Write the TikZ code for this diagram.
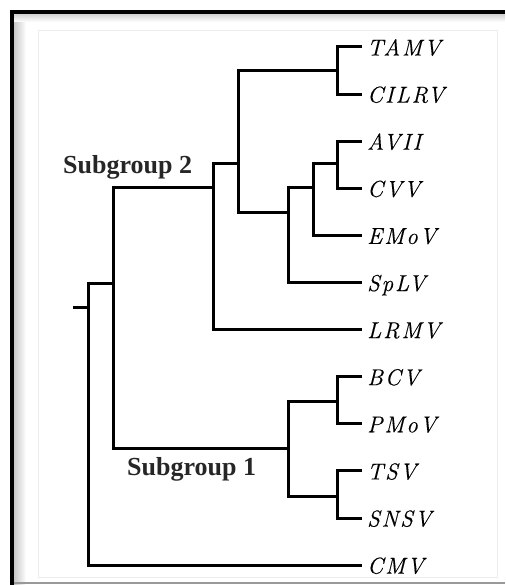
\documentclass[tikz,border=0pt]{standalone}
\usepackage{fontspec}
\newfontfamily\leaffont[LetterSpace=8, FakeBold=0.3]{Latin Modern Roman}
\newfontfamily\groupfont{Liberation Serif}
\usetikzlibrary{positioning}

\begin{document}
\begin{tikzpicture}[x=1pt, y=-1pt, node distance=47.1pt]

\tikzstyle{leaf} = [anchor=west, inner xsep=5pt, inner ysep=0pt, text height=17pt, text depth=0pt, font=\leaffont\itshape\fontsize{23}{26}\selectfont]
\tikzstyle{group} = [anchor=base west, inner sep=0pt, text=black!85, font=\groupfont\bfseries\fontsize{26}{30}\selectfont]
\tikzstyle{branch} = [line width=3pt]

\useasboundingbox (0,0) rectangle (505,585);

% frame
\shade[left color=black!22, right color=white] (14,14) rectangle (26,585);
\shade[top color=black!18, bottom color=white] (14,14) rectangle (505,22);
\draw[black!7, line width=0.6pt] (38,30) rectangle (497,577);
\draw[black!40, line width=1.5pt] (12,583) -- (505,583);
\draw[line width=4.5pt] (505,12) -- (12,12) -- (12,585);

% leaves
\node (tamv) [leaf] at (362,47) {TAMV};
\node (cilrv) [leaf, below=of tamv.west, anchor=west] {CILRV};
\node (avii) [leaf, below=of cilrv.west, anchor=west] {AVII};
\node (cvv) [leaf, below=of avii.west, anchor=west] {CVV};
\node (emov) [leaf, below=of cvv.west, anchor=west] {EMoV};
\node (splv) [leaf, below=of emov.west, anchor=west] {SpLV};
\node (lrmv) [leaf, below=of splv.west, anchor=west] {LRMV};
\node (bcv) [leaf, below=of lrmv.west, anchor=west] {BCV};
\node (pmov) [leaf, below=of bcv.west, anchor=west] {PMoV};
\node (tsv) [leaf, below=of pmov.west, anchor=west] {TSV};
\node (snsv) [leaf, below=of tsv.west, anchor=west] {SNSV};
\node (cmv) [leaf, below=of snsv.west, anchor=west] {CMV};

% junctions
\coordinate (j1) at (337,71);
\coordinate (j2) at (337,164);
\coordinate (j3) at (313,188);
\coordinate (j4) at (288,212);
\coordinate (j5) at (238,164);
\coordinate (j6) at (213,188);
\coordinate (j9) at (337,401);
\coordinate (j10) at (337,496);
\coordinate (j8) at (288,448);
\coordinate (j7) at (113,283);
\coordinate (root) at (88,307);
\coordinate (stub) at (73,307);

\node (sub2) [group] at (63,174) {Subgroup 2};
\node (sub1) [group] at (127,475) {Subgroup 1};

% branches
\draw [branch] (tamv.west) -| (j1) |- (cilrv.west);
\draw [branch] (avii.west) -| (j2) |- (cvv.west);
\draw [branch] (j2) -| (j3) |- (emov.west);
\draw [branch] (j3) -| (j4) |- (splv.west);
\draw [branch] (j1) -| (j5) |- (j4);
\draw [branch] (j5) -| (j6) |- (lrmv.west);
\draw [branch] (bcv.west) -| (j9) |- (pmov.west);
\draw [branch] (tsv.west) -| (j10) |- (snsv.west);
\draw [branch] (j9) -| (j8) |- (j10);
\draw [branch] (j6) -| (j7) |- (j8);
\draw [branch] (j7) -| (root) |- (cmv.west);
\draw [branch] (stub) -- (root);

\end{tikzpicture}
\end{document}
